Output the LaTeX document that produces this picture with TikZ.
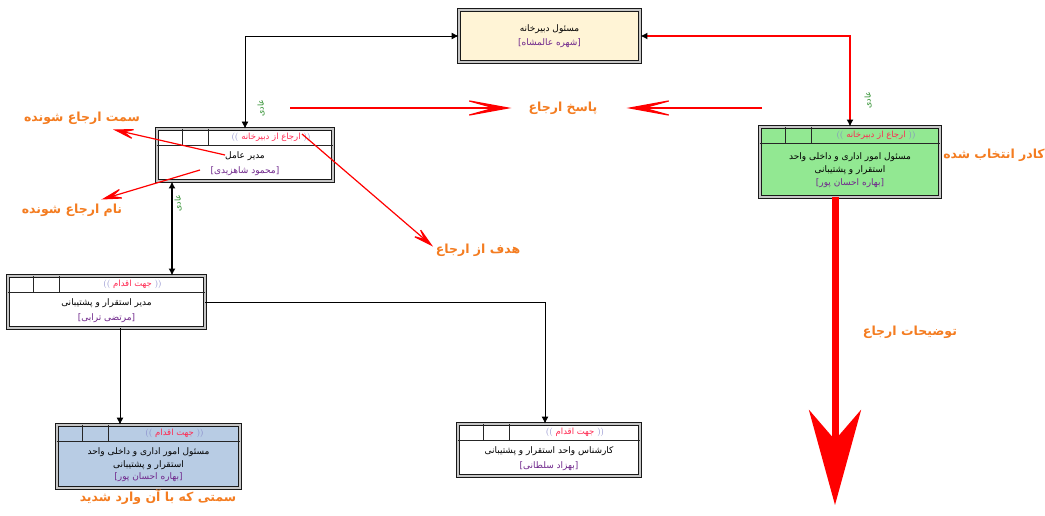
\documentclass[tikz,border=0pt]{standalone}
\usepackage{fontspec}
\usetikzlibrary{arrows.meta,positioning,calc}
\newfontfamily\farsifont[Script=Arabic]{DejaVu Sans}
\TeXXeTstate=1
\newcommand{\fa}[1]{{\farsifont\beginR #1\endR}}
\definecolor{CreamFill}{RGB}{255,244,214}
\definecolor{SelGreen}{RGB}{146,232,146}
\definecolor{EntryBlue}{RGB}{184,204,228}
\definecolor{NoteOrange}{RGB}{244,124,32}
\definecolor{TitleRed}{RGB}{255,40,80}
\definecolor{NamePurple}{RGB}{112,40,140}
\definecolor{ParenBlue}{RGB}{130,130,200}
\definecolor{FlagGreen}{RGB}{40,140,40}
\tikzset{
  card/.style={draw=black!90,double=gray!45,double distance=1.6pt,
    line width=0.9pt,rectangle,inner sep=0pt},
  cellline/.style={draw=black!85,line width=0.7pt},
  cardtitle/.style={font=\fontsize{8.5}{9}\selectfont,inner sep=0pt},
  cardbody/.style={font=\fontsize{9}{14.5}\selectfont,align=center,inner sep=0pt},
  link/.style={-{Latex[length=7pt,width=7pt]},line width=0.9pt,draw=black},
  duallink/.style={{Latex[length=7pt,width=7pt]}-{Latex[length=7pt,width=7pt]},
    line width=0.9pt,draw=black},
  redlink/.style={{Latex[length=7pt,width=7pt,color=black]}-{Latex[length=7pt,width=7pt,color=black]},
    line width=1.3pt,draw=red},
  bigred/.style={-{Stealth[length=95pt,width=52pt,inset=30pt]},line width=7pt,draw=red},
  note/.style={font=\fontsize{12.5}{14}\selectfont\bfseries,text=NoteOrange,inner sep=1pt},
  notearrow/.style={-{Stealth[length=26pt,width=13pt,inset=14pt]},line width=1.2pt,draw=red},
  flag/.style={font=\fontsize{8}{9}\selectfont,text=FlagGreen,rotate=90,inner sep=0pt},
}
% referral card: name, x, y, width, height, fill, header, body
\newcommand{\refcard}[8]{%
  \node[card,fill=#6,minimum width=#4,minimum height=#5] (#1) at (#2,#3) {};
  \draw[cellline] ([yshift=-17pt]#1.north west) -- ([yshift=-17pt]#1.north east);
  \draw[cellline] ([xshift=26pt]#1.north west) -- ++(0,17);
  \draw[cellline] ([xshift=52pt]#1.north west) -- ++(0,17);
  \node[cardtitle] (#1-title) at ([xshift=26pt,yshift=-8.5pt]#1.north)
    {\textcolor{ParenBlue}{((}\ \textcolor{TitleRed}{\fa{#7}}\ \textcolor{ParenBlue}{))}};
  \node[cardbody] (#1-body) at ([yshift=-8.5pt]#1.center) {#8};
}

\begin{document}
\begin{tikzpicture}[x=1pt,y=-1pt]
  \useasboundingbox[fill=white] (0,0) rectangle (1045,516);

  % secretariat
  \node[card,fill=CreamFill,minimum width=181pt,minimum height=52pt] (secr) at (549.5,36) {};
  \node[cardbody] (secr-body) at (secr.center)
    {\fa{مسئول دبیرخانه}\\ \textcolor{NamePurple}{\fa{[شهره عالمشاه]}}};

  \refcard{ceo}{245}{155}{176pt}{52pt}{white}{ارجاع از دبیرخانه}
    {\fa{مدیر عامل}\\ \textcolor{NamePurple}{\fa{[محمود شاهزیدی]}}}
  \refcard{chosen}{850}{162}{180pt}{70pt}{SelGreen}{ارجاع از دبیرخانه}
    {\fa{مسئول امور اداری و داخلی واحد}\\[-1.5pt] \fa{استقرار و پشتیبانی}\\[-1.5pt]
     \textcolor{NamePurple}{\fa{[بهاره احسان پور]}}}
  \refcard{mgr}{106.5}{302}{197pt}{52pt}{white}{جهت اقدام}
    {\fa{مدیر استقرار و پشتیبانی}\\ \textcolor{NamePurple}{\fa{[مرتضی ترابی]}}}
  \refcard{entry}{148.5}{456.5}{183pt}{63pt}{EntryBlue}{جهت اقدام}
    {\fa{مسئول امور اداری و داخلی واحد}\\[-2pt] \fa{استقرار و پشتیبانی}\\[-2pt]
     \textcolor{NamePurple}{\fa{[بهاره احسان پور]}}}
  \refcard{expert}{549}{450}{182pt}{52pt}{white}{جهت اقدام}
    {\fa{کارشناس واحد استقرار و پشتیبانی}\\ \textcolor{NamePurple}{\fa{[بهزاد سلطانی]}}}

  % tree links
  \draw[duallink] (secr.west) -| (ceo.north);
  \draw[redlink] (secr.east) -| (chosen.north);
  \draw[duallink,line width=2pt] ([xshift=-73pt]ceo.south) -- ([xshift=-73pt]ceo.south |- mgr.north);
  \draw[link] ([xshift=13.5pt]mgr.south) -- ([xshift=13.5pt]mgr.south |- entry.north);
  \draw[link] (mgr.east) -| ([xshift=-4pt]expert.north);
  \coordinate (redtip) at (835,505);
  \draw[bigred] (chosen.south -| redtip) -- (redtip);

  \node[flag] (flag1) at (261,108) {\fa{عادی}};
  \node[flag] (flag2) at (178,203) {\fa{عادی}};
  \node[flag] (flag3) at (868,100) {\fa{عادی}};

  % notes
  \node[note] (reply) at (563,108) {\fa{پاسخ ارجاع}};
  \node[note] (postlbl) at (82,118) {\fa{سمت ارجاع شونده}};
  \node[note] (namelbl) at (72,210) {\fa{نام ارجاع شونده}};
  \node[note] (goallbl) at (478,250) {\fa{هدف از ارجاع}};
  \node[note] (desclbl) at (910,332) {\fa{توضیحات ارجاع}};
  \node[note] (sellbl) at (994,155) {\fa{کادر انتخاب شده}};
  \node[note] (entrylbl) at (158,497) {\fa{سمتی که با آن وارد شدید}};

  \coordinate (replyL) at (290,108);
  \coordinate (replyR) at (762,108);
  \coordinate (posttail) at (225,155);
  \coordinate (nametail) at (200,170);
  \coordinate (goaltail) at (302,134);
  \draw[notearrow,-{Stealth[length=55pt,width=20pt,inset=36pt]}] (replyL) -- ([xshift=-16pt]reply.west);
  \draw[notearrow,-{Stealth[length=55pt,width=20pt,inset=36pt]}] (replyR) -- ([xshift=28pt]reply.east);
  \draw[notearrow] (posttail) -- ([xshift=-28pt,yshift=-4pt]postlbl.south east);
  \draw[notearrow] (nametail) -- ([xshift=-22pt,yshift=3pt]namelbl.north east);
  \draw[notearrow] (goaltail) -- ([xshift=-45pt,yshift=-4pt]goallbl.north);
\end{tikzpicture}
\end{document}
